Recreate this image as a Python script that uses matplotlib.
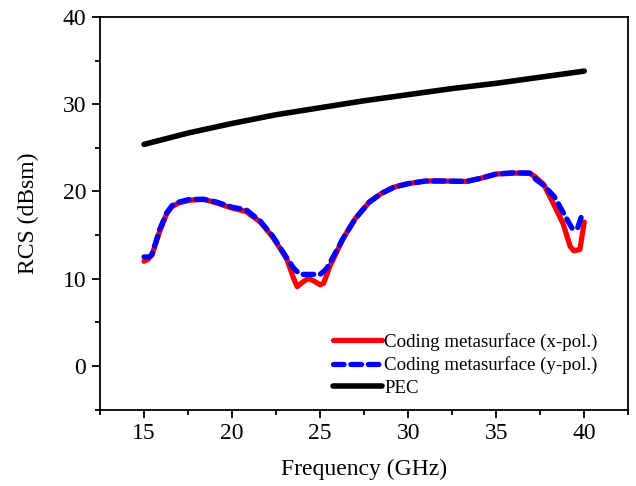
import matplotlib
matplotlib.use("Agg")
import matplotlib.pyplot as plt

plt.rcParams['font.family'] = ['Liberation Serif', 'DejaVu Serif']
plt.rcParams['mathtext.fontset'] = 'stix'

# Data
freq_x = [15.0, 15.2, 15.45, 15.9, 16.3, 16.6, 17.0, 17.6, 18.4, 19.1, 20.0, 20.8,
          21.6, 22.3, 23.1, 23.5, 23.7, 24.0, 24.3, 24.6, 25.0, 25.2, 25.55, 26.3,
          27.0, 27.8, 28.5, 29.2, 30.0, 31.0, 32.0, 33.3, 34.1, 35.0, 36.0, 36.9,
          37.2, 37.7, 38.2, 38.8, 39.2, 39.4, 39.75, 40.0]
rcs_x = [12.0, 12.2, 12.7, 15.5, 17.5, 18.3, 18.7, 19.0, 19.1, 18.7, 18.1, 17.7,
         16.5, 14.8, 12.3, 10.0, 9.1, 9.6, 10.0, 9.8, 9.3, 9.5, 11.4, 14.6,
         16.9, 18.8, 19.8, 20.5, 20.9, 21.2, 21.2, 21.15, 21.5, 22.0, 22.1, 22.1,
         21.7, 20.8, 18.8, 16.3, 13.7, 13.2, 13.35, 16.5]

freq_y = [15.0, 15.3, 15.45, 15.9, 16.3, 16.6, 17.0, 17.6, 18.4, 19.1, 20.0, 20.8,
          21.6, 22.3, 23.1, 23.5, 23.8, 24.0, 24.5, 25.0, 25.3, 25.5, 26.3,
          27.0, 27.8, 28.5, 29.2, 30.0, 31.0, 32.0, 33.3, 34.1, 35.0, 36.0, 36.9,
          37.3, 37.7, 38.3, 38.8, 39.3, 39.6, 39.9]
rcs_y = [12.5, 12.5, 12.8, 15.7, 17.6, 18.4, 18.8, 19.1, 19.1, 18.8, 18.2, 17.9,
         16.6, 14.9, 12.4, 11.2, 10.6, 10.5, 10.5, 10.5, 11.0, 11.6, 14.6,
         16.9, 18.8, 19.8, 20.5, 20.9, 21.2, 21.2, 21.15, 21.5, 22.0, 22.15, 22.1,
         21.3, 20.7, 19.4, 17.6, 15.8, 15.7, 17.5]

freq_pec = [15.0, 17.5, 20.0, 22.5, 25.0, 27.5, 30.0, 32.5, 35.0, 37.5, 40.0]
rcs_pec = [25.4, 26.7, 27.8, 28.8, 29.6, 30.4, 31.1, 31.8, 32.4, 33.1, 33.8]

labels = ['Coding metasurface (x-pol.)', 'Coding metasurface (y-pol.)', 'PEC']
xticks = [15, 20, 25, 30, 35, 40]
yticks = [0, 10, 20, 30, 40]

fig = plt.figure(figsize=(6.36, 4.86), dpi=100)
ax = fig.add_axes([100/636, 1-409.6/486, 528.3/636, 392.6/486])

ax.plot(freq_x, rcs_x, color='#ff0000', lw=3.8, label=labels[0], solid_capstyle='round')
ax.plot(freq_y, rcs_y, color='#0000ff', lw=3.8, ls=(0, (2.0, 1.3)), label=labels[1],
        dash_capstyle='round')
ax.plot(freq_pec, rcs_pec, color='black', lw=4.0, label=labels[2], solid_capstyle='round')

ax.set_xlim(12.5, 42.5)
ax.set_ylim(-5, 40)
ax.set_xticks(xticks)
ax.set_yticks(yticks)
ax.set_xticks([12.5, 17.5, 22.5, 27.5, 32.5, 37.5, 42.5], minor=True)
ax.set_yticks([-5, 5, 15, 25, 35], minor=True)
ax.tick_params(which='major', direction='out', length=6, width=1.3, labelsize=17, pad=4)
ax.tick_params(which='minor', direction='out', length=3.5, width=1.3)
for s in ax.spines.values():
    s.set_linewidth(1.3)

ax.set_xlabel('Frequency (GHz)', fontsize=17, labelpad=10)
ax.set_ylabel('RCS (dBsm)', fontsize=17, labelpad=17)

ax.legend(loc='upper left', bbox_to_anchor=(0.441, 0.195), frameon=False,
          fontsize=13.6, handlelength=2.6, handletextpad=0.1, labelspacing=0.28,
          borderpad=0, borderaxespad=0)

fig.savefig('out.png', dpi=100)
